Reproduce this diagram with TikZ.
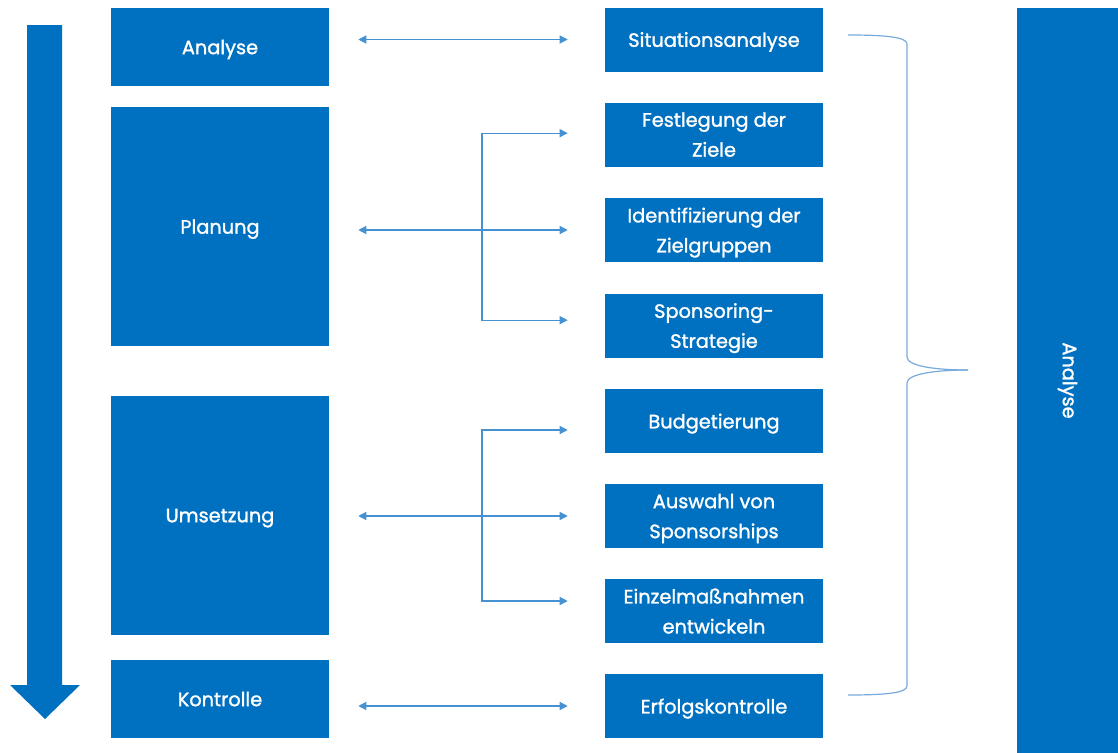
\documentclass[tikz,border=0pt]{standalone}
\usepackage{fontspec}
\setmainfont{Poppins}[FakeBold=1.4]
\usetikzlibrary{arrows.meta,calc}
\definecolor{boxblue}{RGB}{0,112,192}
\definecolor{lineblue}{RGB}{70,145,210}
\definecolor{bracelight}{RGB}{120,170,220}

\tikzset{
  phase/.style={fill=boxblue, text=white, inner sep=0pt, text depth=0pt, minimum width=163.5pt, font=\fontsize{14.5}{21}\selectfont},
  task/.style={fill=boxblue, text=white, inner sep=0pt, text depth=0pt, minimum width=163.5pt, minimum height=48pt, align=center, font=\fontsize{14.5}{22.5}\selectfont},
  link/.style={lineblue, line width=0.9pt, -{Triangle[length=6pt,width=6pt]}},
  twoway/.style={link, {Triangle[length=6pt,width=6pt]}-{Triangle[length=6pt,width=6pt]}, shorten <=21.75pt, shorten >=27.75pt},
}

\begin{document}
\begin{tikzpicture}[x=0.75pt,y=-0.75pt]
\useasboundingbox (0,0) rectangle (1118,753);

% big process arrow
\fill[boxblue] (27,25) -- (62,25) -- (62,685) -- (80,685) -- (45,719) -- (10,685) -- (27,685) -- cycle;

% phases
\node[phase, minimum height=58.5pt] (analyse) at (220,47) {Analyse};
\node[phase, minimum height=179.25pt] (planung) at (220,226.5) {Planung};
\node[phase, minimum height=179.25pt] (umsetzung) at (220,515.5) {Umsetzung};
\node[phase, minimum height=58.5pt] (kontrolle) at (220,699) {Kontrolle};

% tasks
\node[task] (situation) at (714,39.5) {Situationsanalyse};
\node[task] (ziele) at (714,134.5) {Festlegung der\\Ziele};
\node[task] (zielgruppen) at (714,230) {Identifizierung der\\Zielgruppen};
\node[task] (strategie) at (714,325.5) {Sponsoring-\\Strategie};
\node[task] (budget) at (714,421) {Budgetierung};
\node[task] (auswahl) at (714,516) {Auswahl von\\Sponsorships};
\node[task] (massnahmen) at (714,611) {Einzelmaßnahmen\\entwickeln};
\node[task] (erfolg) at (714,706) {Erfolgskontrolle};

% right column
\node[fill=boxblue, text=white, inner sep=0pt, minimum width=75.75pt, minimum height=558.75pt, font=\fontsize{14.5}{21}\selectfont] (gesamt) at (1067.5,380.5) {\rotatebox{-90}{Analyse}};

% links
\draw[twoway] (analyse.east |- situation.west) -- (situation.west);
\draw[twoway] (planung.east |- zielgruppen.west) -- (zielgruppen.west);
\draw[twoway] (umsetzung.east |- auswahl.west) -- (auswahl.west);
\draw[twoway] (kontrolle.east |- erfolg.west) -- (erfolg.west);

\coordinate (b1) at (482,229);
\coordinate (b2) at (482,518);
\draw[link, shorten >=27.75pt] (b1) |- ([yshift=1pt]ziele.west);
\draw[link, shorten >=27.75pt] (b1) |- ([yshift=4pt]strategie.west);
\draw[link, shorten >=27.75pt] (b2) |- ([yshift=-6.75pt]budget.west);
\draw[link, shorten >=27.75pt] (b2) |- ([yshift=7.5pt]massnahmen.west);

% brace
\coordinate (top) at (848,35);
\coordinate (tip) at (968,370);
\coordinate (bot) at (848,695);
\draw[bracelight, line width=0.9pt] (top) .. controls (885,35) and (907,37) .. (907,44) -- (907,357)
  .. controls (907,366) and (935,370) .. (tip);
\draw[bracelight, line width=0.9pt] (bot) .. controls (885,695) and (907,693) .. (907,686) -- (907,383)
  .. controls (907,374) and (935,370) .. (tip);
\end{tikzpicture}
\end{document}
